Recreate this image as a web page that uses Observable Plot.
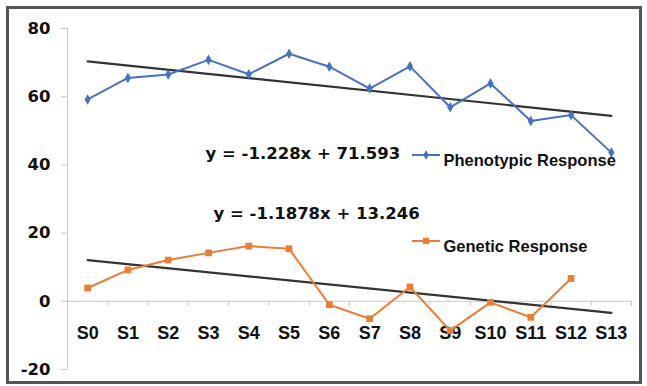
<!DOCTYPE html>
<html>
<head>
<meta charset="utf-8">
<script src="https://cdn.jsdelivr.net/npm/d3@7"></script>
<script src="https://cdn.jsdelivr.net/npm/@observablehq/plot@0.6"></script>
<style>
  body { margin: 0; background: #fff; }
  #wrap { position: relative; width: 647px; height: 386px; }
  #frame { position: absolute; left: 6px; top: 6px; width: 630px; height: 372px; border: 3px solid #555; pointer-events: none; }
</style>
</head>
<body>
<div id="wrap"><div id="frame"></div></div>
<script>
const stages = ["S0","S1","S2","S3","S4","S5","S6","S7","S8","S9","S10","S11","S12","S13"];
const phenotypic = [59.2, 65.5, 66.5, 70.8, 66.6, 72.6, 68.8, 62.4, 68.9, 56.9, 63.9, 52.9, 54.6, 43.6];
const genetic = [3.9, 9.2, 12.1, 14.2, 16.2, 15.4, -1.0, -5.1, 4.2, -8.6, -0.3, -4.7, 6.7, null];
const yTicks = [-20, 0, 20, 40, 60, 80];
const phenoTrend = {slope: -1.228, intercept: 71.593, label: "y = -1.228x + 71.593"};
const geneTrend = {slope: -1.1878, intercept: 13.246, label: "y = -1.1878x + 13.246"};
const seriesNames = ["Phenotypic Response", "Genetic Response"];
const colors = ["#4472c4", "#ed7d31"];

const idx = stages.map((s, i) => i);
const phenoData = idx.map(i => ({i, v: phenotypic[i]}));
const geneData = idx.filter(i => genetic[i] != null).map(i => ({i, v: genetic[i]}));
const trendPts = t => [0, stages.length - 1].map(i => ({i, v: t.slope * (i + 1) + t.intercept}));
const boundaries = d3.range(0.5, stages.length, 1);
const x0 = -0.5;

const font = "'Liberation Sans', Arial, sans-serif";
const wide = "'DejaVu Sans', sans-serif";

const plot = Plot.plot({
  width: 647,
  height: 386,
  marginLeft: 67,
  marginRight: 16,
  marginTop: 28,
  marginBottom: 17,
  style: {fontFamily: font, background: "transparent"},
  x: {type: "linear", domain: [x0, stages.length - 0.5], axis: null},
  y: {domain: [-20, 80], axis: null},
  marks: [
    Plot.ruleY([0], {stroke: "#c8c8c8", strokeWidth: 1}),
    Plot.ruleX(boundaries, {x: d => d, y1: 0, y2: 0, insetBottom: -5, stroke: "#c8c8c8"}),
    Plot.ruleX([x0], {stroke: "#c8c8c8", strokeWidth: 1}),
    Plot.ruleY(yTicks, {y: d => d, x1: x0, x2: x0, insetLeft: -6, stroke: "#c8c8c8"}),
    Plot.text(yTicks, {x: x0, y: d => d, dx: -17, text: d => String(d), textAnchor: "end", fontSize: 16.5, fontWeight: "bold", fontFamily: wide, fill: "#111"}),
    Plot.text(idx, {x: d => d, y: 0, dy: 32, text: d => stages[d], fontSize: 18, fontWeight: "bold", fill: "#111"}),
    Plot.line(trendPts(phenoTrend), {x: "i", y: "v", stroke: "#333", strokeWidth: 2.2}),
    Plot.line(trendPts(geneTrend), {x: "i", y: "v", stroke: "#333", strokeWidth: 2.2}),
    Plot.line(phenoData, {x: "i", y: "v", stroke: colors[0], strokeWidth: 2}),
    Plot.dot(phenoData, {x: "i", y: "v", symbol: "diamond", r: 3.2, fill: colors[0]}),
    Plot.line(geneData, {x: "i", y: "v", stroke: colors[1], strokeWidth: 2}),
    Plot.dot(geneData, {x: "i", y: "v", symbol: "square", r: 3.8, fill: colors[1]}),
    Plot.text([phenoTrend.label], {frameAnchor: "top-left", dx: 138, dy: 119, text: d => d, textAnchor: "start", fontSize: 16.5, fontWeight: "bold", fontFamily: wide, fill: "#111"}),
    Plot.text([geneTrend.label], {frameAnchor: "top-left", dx: 146, dy: 179, text: d => d, textAnchor: "start", fontSize: 16.5, fontWeight: "bold", fontFamily: wide, fill: "#111"}),
    Plot.text([seriesNames[0]], {frameAnchor: "top-left", dx: 376, dy: 126, text: d => d, textAnchor: "start", fontSize: 16.5, fontWeight: "bold", fill: "#111"}),
    Plot.text([seriesNames[1]], {frameAnchor: "top-left", dx: 376, dy: 212, text: d => d, textAnchor: "start", fontSize: 16.5, fontWeight: "bold", fill: "#111"})
  ]
});

// legend swatches
const svg = d3.select(plot);
const sw = [{y: 155, c: colors[0], sym: "diamond"}, {y: 241, c: colors[1], sym: "square"}];
sw.forEach(s => {
  svg.append("line").attr("x1", 412).attr("x2", 440).attr("y1", s.y).attr("y2", s.y)
    .attr("stroke", s.c).attr("stroke-width", 2);
  const shape = s.sym === "diamond" ? d3.symbolDiamond : d3.symbolSquare;
  svg.append("path").attr("d", d3.symbol(shape, s.sym === "diamond" ? 26 : 40)())
    .attr("transform", `translate(426,${s.y})`).attr("fill", s.c);
});

document.getElementById("wrap").prepend(plot);
</script>
</body>
</html>
